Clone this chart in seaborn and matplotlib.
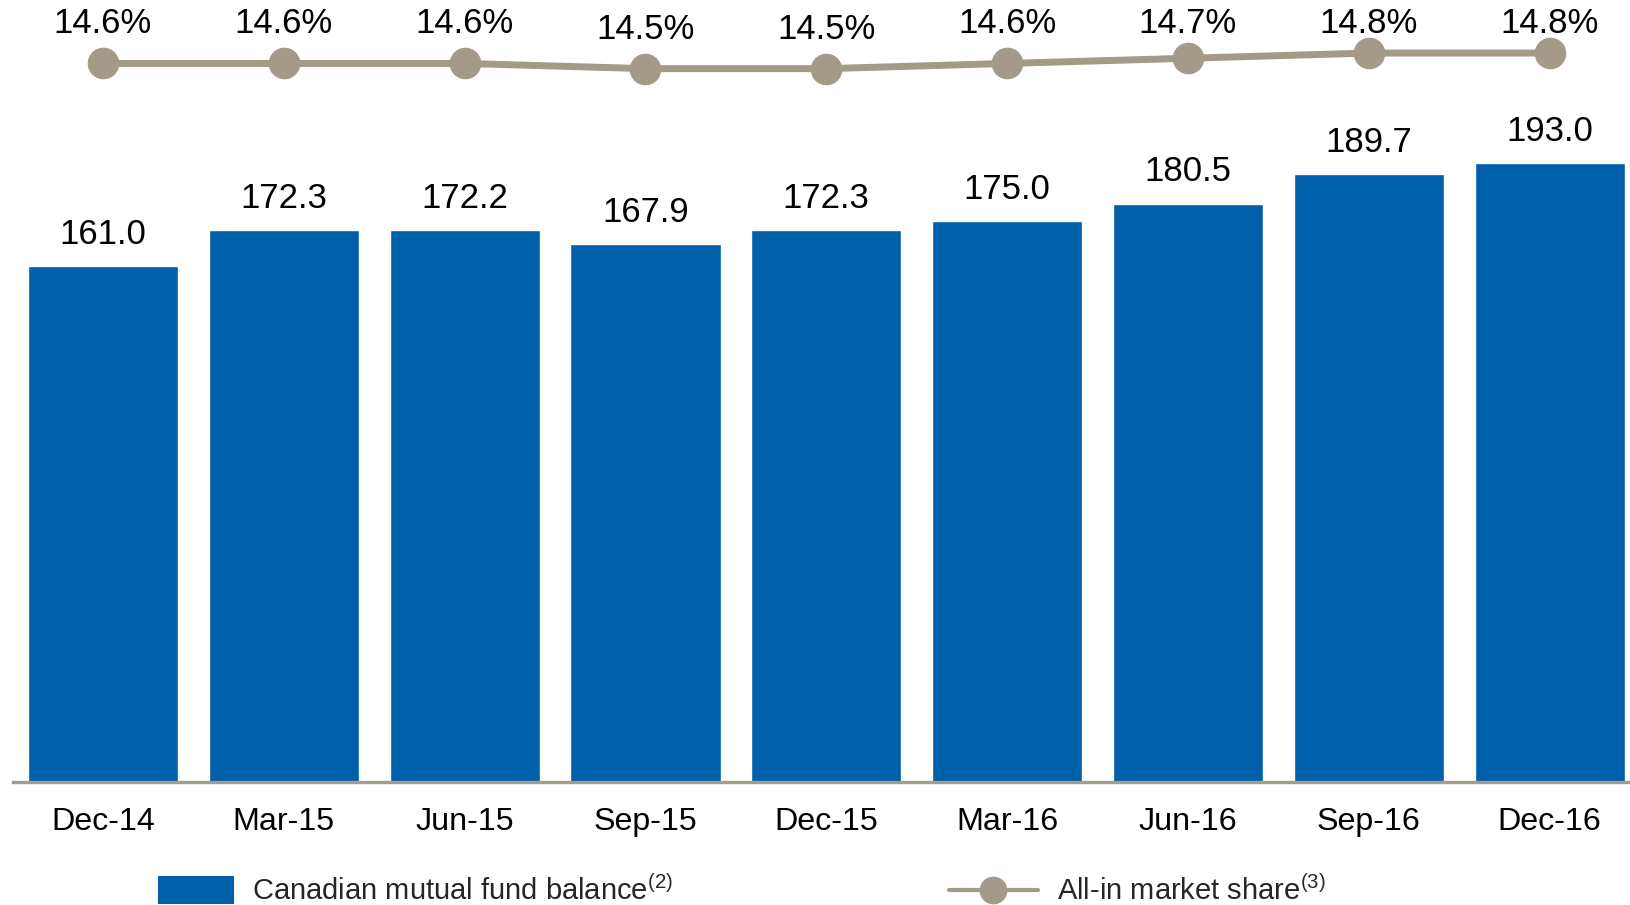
import matplotlib
matplotlib.use("Agg")
import matplotlib.pyplot as plt
import seaborn as sns
import pandas as pd
from matplotlib.patches import Patch
from matplotlib.lines import Line2D

categories = ["Dec-14", "Mar-15", "Jun-15", "Sep-15", "Dec-15", "Mar-16", "Jun-16", "Sep-16", "Dec-16"]
fund_balance = [161.0, 172.3, 172.2, 167.9, 172.3, 175.0, 180.5, 189.7, 193.0]
market_share = [14.6, 14.6, 14.6, 14.5, 14.5, 14.6, 14.7, 14.8, 14.8]
bar_label_text = "Canadian mutual fund balance$^{(2)}$"
line_label_text = "All-in market share$^{(3)}$"

BAR_COLOR = "#0060A9"
LINE_COLOR = "#A39A88"
AXIS_COLOR = "#A59D8C"

sns.set_style("white")
plt.rcParams["font.family"] = ["Liberation Sans", "DejaVu Sans"]
plt.rcParams["mathtext.fontset"] = "custom"
plt.rcParams["mathtext.rm"] = "Liberation Sans"
plt.rcParams["mathtext.it"] = "Liberation Sans"

df = pd.DataFrame({"period": categories, "balance": fund_balance, "share": market_share})

fig = plt.figure(figsize=(16.31, 9.05), dpi=100)
ax = fig.add_axes([0.0077, 0.1357, 0.9923, 0.8643])

sns.barplot(data=df, x="period", y="balance", color=BAR_COLOR, width=0.83,
            saturation=1, ax=ax)
for c in ax.containers:
    ax.bar_label(c, fmt="%.1f", padding=11, fontsize=25, color="black")

ax.set_ylim(0, 244)
ax.set_xlim(-0.5, 8.45)
ax.set_xlabel("")
ax.set_ylabel("")
ax.set_yticks([])
ax.tick_params(axis="x", length=0, pad=18, labelsize=23.2, colors="black")
for s in ["top", "left", "right"]:
    ax.spines[s].set_visible(False)
ax.spines["bottom"].set_color(AXIS_COLOR)
ax.spines["bottom"].set_linewidth(2.4)

ax2 = ax.twinx()
sns.pointplot(data=df, x="period", y="share", color=LINE_COLOR, markers="o",
              errorbar=None, markersize=19, linewidth=5, ax=ax2)
ax2.set_ylim(0.78, 15.82)
ax2.set_xlim(-0.5, 8.45)
ax2.set_yticks([])
ax2.set_ylabel("")
ax2.set_xlabel("")
for s in ["top", "left", "right", "bottom"]:
    ax2.spines[s].set_visible(False)
for i, v in enumerate(market_share):
    ax2.text(i, min(v, 14.6) + 0.76, f"{v:.1f}%", ha="center", va="center",
             fontsize=25, color="black")

h1 = [Patch(facecolor=BAR_COLOR, edgecolor="none")]
fig.legend(h1, [bar_label_text], loc="center left", bbox_to_anchor=(0.0969, 0.0155),
           frameon=False, fontsize=21, handlelength=2.6, handleheight=1.1,
           handletextpad=0.62, borderpad=0, borderaxespad=0)
h2 = [Line2D([0], [0], color=LINE_COLOR, lw=3, marker="o", markersize=19)]
fig.legend(h2, [line_label_text], loc="center left", bbox_to_anchor=(0.5816, 0.0155),
           frameon=False, fontsize=21, handlelength=3.05, handletextpad=0.65,
           borderpad=0, borderaxespad=0)

fig.savefig("out.png", dpi=100)
